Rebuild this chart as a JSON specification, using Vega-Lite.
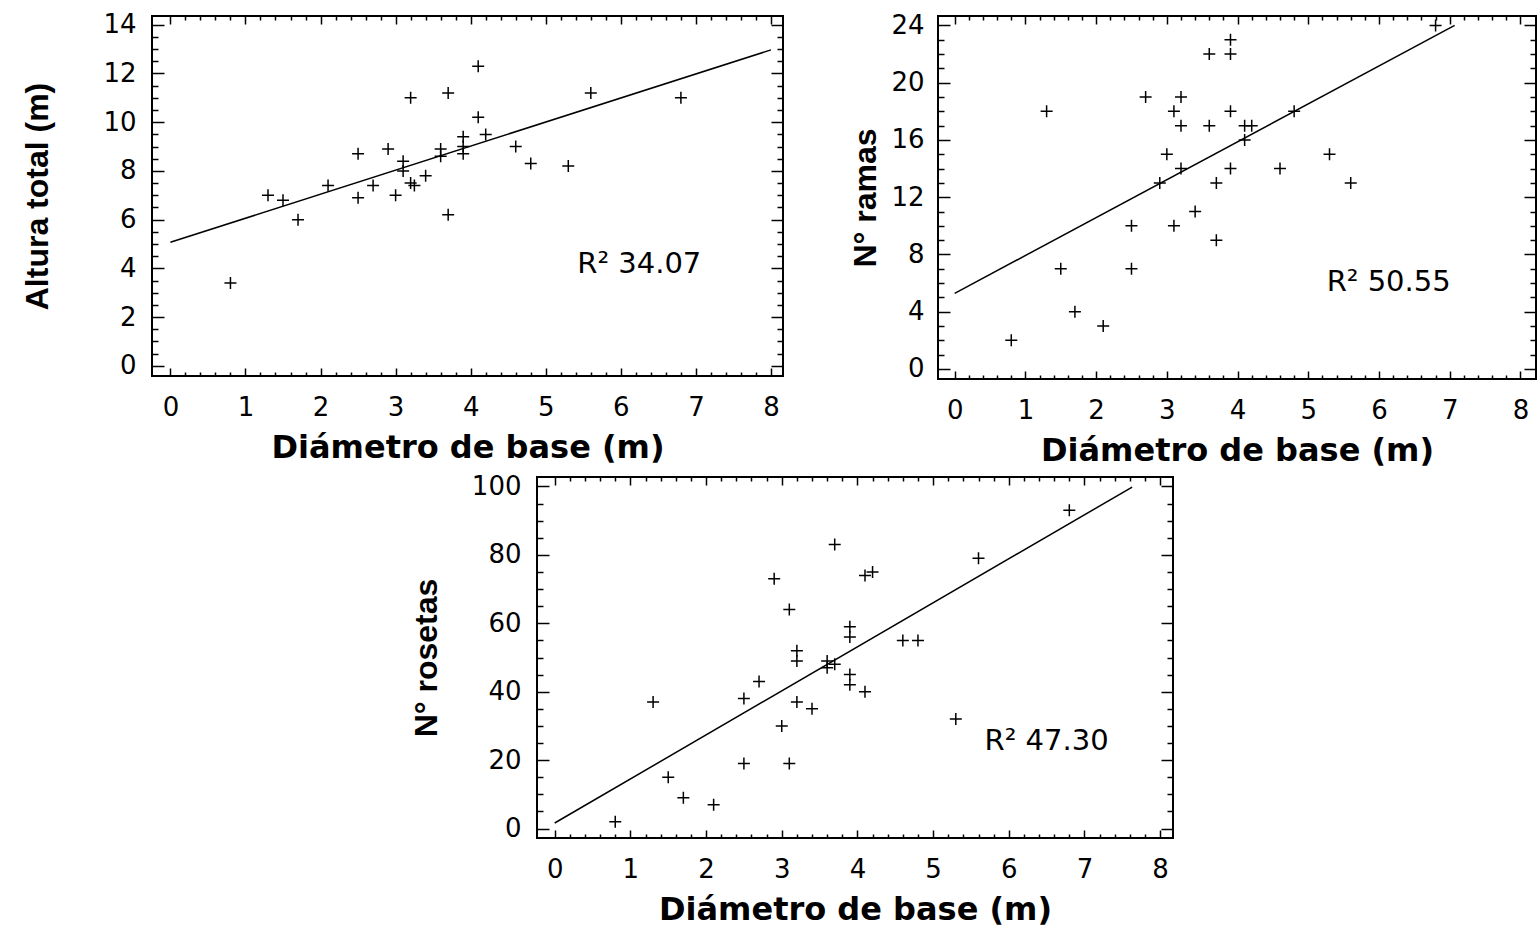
{
  "$schema": "https://vega.github.io/schema/vega-lite/v6.json",
  "padding": {"left": 20, "top": 10, "right": 0, "bottom": 0},
  "background": "white",
  "config": {
    "view": {"stroke": "black", "strokeWidth": 2},
    "axis": {"grid": false, "domain": false, "tickColor": "black", "tickWidth": 1.5, "labelColor": "black", "labelFont": "DejaVu Sans", "labelFontSize": 26, "labelFlush": false, "labelOverlap": false, "labelBound": false, "titleColor": "black", "titleFontWeight": "bold"}
  },
  "datasets": {
    "p1": [
      {"d": 0.8, "v": 3.4}, {"d": 1.3, "v": 7.0}, {"d": 1.5, "v": 6.8}, {"d": 1.7, "v": 6.0}, {"d": 2.1, "v": 7.4},
      {"d": 2.5, "v": 8.7}, {"d": 2.5, "v": 6.9}, {"d": 2.7, "v": 7.4}, {"d": 2.9, "v": 8.9}, {"d": 3.0, "v": 7.0},
      {"d": 3.1, "v": 8.4}, {"d": 3.1, "v": 8.0}, {"d": 3.2, "v": 11.0}, {"d": 3.2, "v": 7.5}, {"d": 3.25, "v": 7.4},
      {"d": 3.4, "v": 7.8}, {"d": 3.6, "v": 8.9}, {"d": 3.6, "v": 8.6}, {"d": 3.7, "v": 11.2}, {"d": 3.7, "v": 6.2},
      {"d": 3.9, "v": 9.4}, {"d": 3.9, "v": 9.0}, {"d": 3.9, "v": 8.7}, {"d": 4.1, "v": 12.3}, {"d": 4.1, "v": 10.2},
      {"d": 4.2, "v": 9.5}, {"d": 4.6, "v": 9.0}, {"d": 4.8, "v": 8.3}, {"d": 5.3, "v": 8.2}, {"d": 5.6, "v": 11.2},
      {"d": 6.8, "v": 11.0}
    ],
    "l1": [{"d": 0, "v": 5.07}, {"d": 8, "v": 12.97}],
    "p2": [
      {"d": 0.8, "v": 2}, {"d": 1.3, "v": 18}, {"d": 1.5, "v": 7}, {"d": 1.7, "v": 4}, {"d": 2.1, "v": 3},
      {"d": 2.5, "v": 10}, {"d": 2.5, "v": 7}, {"d": 2.7, "v": 19}, {"d": 2.9, "v": 13}, {"d": 3.0, "v": 15},
      {"d": 3.1, "v": 18}, {"d": 3.1, "v": 10}, {"d": 3.2, "v": 19}, {"d": 3.2, "v": 17}, {"d": 3.2, "v": 14},
      {"d": 3.4, "v": 11}, {"d": 3.6, "v": 22}, {"d": 3.6, "v": 17}, {"d": 3.7, "v": 13}, {"d": 3.7, "v": 9},
      {"d": 3.9, "v": 23}, {"d": 3.9, "v": 22}, {"d": 3.9, "v": 18}, {"d": 3.9, "v": 14}, {"d": 4.1, "v": 17},
      {"d": 4.2, "v": 17}, {"d": 4.1, "v": 16}, {"d": 4.6, "v": 14}, {"d": 4.8, "v": 18}, {"d": 5.3, "v": 15},
      {"d": 5.6, "v": 13}, {"d": 6.8, "v": 24}
    ],
    "l2": [{"d": 0, "v": 5.28}, {"d": 7.07, "v": 24.0}],
    "p3": [
      {"d": 0.8, "v": 2}, {"d": 1.3, "v": 37}, {"d": 1.5, "v": 15}, {"d": 1.7, "v": 9}, {"d": 2.1, "v": 7},
      {"d": 2.5, "v": 38}, {"d": 2.5, "v": 19}, {"d": 2.7, "v": 43}, {"d": 2.9, "v": 73}, {"d": 3.0, "v": 30},
      {"d": 3.1, "v": 64}, {"d": 3.1, "v": 19}, {"d": 3.2, "v": 52}, {"d": 3.2, "v": 49}, {"d": 3.2, "v": 37},
      {"d": 3.4, "v": 35}, {"d": 3.6, "v": 49}, {"d": 3.6, "v": 47}, {"d": 3.7, "v": 48}, {"d": 3.7, "v": 83},
      {"d": 3.9, "v": 59}, {"d": 3.9, "v": 56}, {"d": 3.9, "v": 45}, {"d": 3.9, "v": 42}, {"d": 4.1, "v": 40},
      {"d": 4.1, "v": 74}, {"d": 4.2, "v": 75}, {"d": 4.6, "v": 55}, {"d": 4.8, "v": 55}, {"d": 5.3, "v": 32},
      {"d": 5.6, "v": 79}, {"d": 6.8, "v": 93}
    ],
    "l3": [{"d": 0, "v": 1.64}, {"d": 7.63, "v": 99.8}]
  },
  "spacing": 5,
  "vconcat": [
    {
      "bounds": "flush",
      "spacing": 155,
      "hconcat": [
        {
          "width": 631, "height": 360,
          "resolve": {"axis": {"x": "independent", "y": "independent"}},
          "layer": [
            {
              "data": {"name": "p1"},
              "mark": {"type": "point", "shape": "M-1,0L1,0M0,-1L0,1", "filled": false, "color": "black", "strokeWidth": 1.5, "size": 144, "opacity": 1},
              "encoding": {
                "x": {"field": "d", "type": "quantitative", "scale": {"domain": [-0.245, 8.16], "nice": false, "zero": false},
                      "axis": {"orient": "bottom", "title": "Diámetro de base (m)", "values": [0,1,2,3,4,5,6,7,8], "ticks": false, "tickSize": 0, "labelPadding": 18, "titlePadding": 12, "titleFont": "DejaVu Sans", "titleFontSize": 32}},
                "y": {"field": "v", "type": "quantitative", "scale": {"domain": [-0.42, 14.36], "nice": false, "zero": false},
                      "axis": {"orient": "left", "title": "Altura total (m)", "values": [0,2,4,6,8,10,12,14], "ticks": false, "tickSize": 0, "labelPadding": 16, "titlePadding": 48, "titleFont": "Liberation Sans", "titleFontSize": 32}}
              }
            },
            {
              "data": {"name": "l1"},
              "mark": {"type": "line", "color": "black", "strokeWidth": 1.5},
              "encoding": {
                "x": {"field": "d", "type": "quantitative", "scale": {"domain": [-0.245, 8.16], "nice": false, "zero": false},
                      "axis": {"orient": "bottom", "title": null, "labels": false, "values": [0,0.2,0.4,0.6,0.8,1,1.2,1.4,1.6,1.8,2,2.2,2.4,2.6,2.8,3,3.2,3.4,3.6,3.8,4,4.2,4.4,4.6,4.8,5,5.2,5.4,5.6,5.8,6,6.2,6.4,6.6,6.8,7,7.2,7.4,7.6,7.8,8],
                               "tickSize": {"condition": {"test": "abs(datum.value - round(datum.value)) < 0.01", "value": -8}, "value": -4}}},
                "y": {"field": "v", "type": "quantitative", "scale": {"domain": [-0.42, 14.36], "nice": false, "zero": false},
                      "axis": {"orient": "left", "title": null, "labels": false, "values": [0,0.5,1,1.5,2,2.5,3,3.5,4,4.5,5,5.5,6,6.5,7,7.5,8,8.5,9,9.5,10,10.5,11,11.5,12,12.5,13,13.5,14],
                               "tickSize": {"condition": {"test": "datum.value % 2 === 0", "value": -12}, "value": -6}}}
              }
            },
            {
              "data": {"values": [{}]},
              "mark": {"type": "text", "align": "left", "baseline": "alphabetic", "font": "DejaVu Sans", "fontSize": 29, "color": "black"},
              "encoding": {
                "x": {"datum": 5.42, "type": "quantitative", "scale": {"domain": [-0.245, 8.16], "nice": false, "zero": false},
                      "axis": {"orient": "top", "title": null, "labels": false, "values": [0,0.2,0.4,0.6,0.8,1,1.2,1.4,1.6,1.8,2,2.2,2.4,2.6,2.8,3,3.2,3.4,3.6,3.8,4,4.2,4.4,4.6,4.8,5,5.2,5.4,5.6,5.8,6,6.2,6.4,6.6,6.8,7,7.2,7.4,7.6,7.8,8],
                               "tickSize": {"condition": {"test": "abs(datum.value - round(datum.value)) < 0.01", "value": -8}, "value": -4}}},
                "y": {"datum": 3.8, "type": "quantitative", "scale": {"domain": [-0.42, 14.36], "nice": false, "zero": false},
                      "axis": {"orient": "right", "title": null, "labels": false, "values": [0,0.5,1,1.5,2,2.5,3,3.5,4,4.5,5,5.5,6,6.5,7,7.5,8,8.5,9,9.5,10,10.5,11,11.5,12,12.5,13,13.5,14],
                               "tickSize": {"condition": {"test": "datum.value % 2 === 0", "value": -12}, "value": -6}}},
                "text": {"value": "R² 34.07"}
              }
            }
          ]
        },
        {
          "width": 598, "height": 363,
          "resolve": {"axis": {"x": "independent", "y": "independent"}},
          "layer": [
            {
              "data": {"name": "p2"},
              "mark": {"type": "point", "shape": "M-1,0L1,0M0,-1L0,1", "filled": false, "color": "black", "strokeWidth": 1.5, "size": 144, "opacity": 1},
              "encoding": {
                "x": {"field": "d", "type": "quantitative", "scale": {"domain": [-0.236, 8.22], "nice": false, "zero": false},
                      "axis": {"orient": "bottom", "title": "Diámetro de base (m)", "values": [0,1,2,3,4,5,6,7,8], "ticks": false, "tickSize": 0, "labelPadding": 18, "titlePadding": 12, "titleFont": "DejaVu Sans", "titleFontSize": 32}},
                "y": {"field": "v", "type": "quantitative", "scale": {"domain": [-0.70, 24.66], "nice": false, "zero": false},
                      "axis": {"orient": "left", "title": "N° ramas", "values": [0,4,8,12,16,20,24], "ticks": false, "tickSize": 0, "labelPadding": 14, "titlePadding": 8, "titleFont": "Liberation Sans", "titleFontSize": 32}}
              }
            },
            {
              "data": {"name": "l2"},
              "mark": {"type": "line", "color": "black", "strokeWidth": 1.5},
              "encoding": {
                "x": {"field": "d", "type": "quantitative", "scale": {"domain": [-0.236, 8.22], "nice": false, "zero": false},
                      "axis": {"orient": "bottom", "title": null, "labels": false, "values": [0,0.2,0.4,0.6,0.8,1,1.2,1.4,1.6,1.8,2,2.2,2.4,2.6,2.8,3,3.2,3.4,3.6,3.8,4,4.2,4.4,4.6,4.8,5,5.2,5.4,5.6,5.8,6,6.2,6.4,6.6,6.8,7,7.2,7.4,7.6,7.8,8],
                               "tickSize": {"condition": {"test": "abs(datum.value - round(datum.value)) < 0.01", "value": -8}, "value": -4}}},
                "y": {"field": "v", "type": "quantitative", "scale": {"domain": [-0.70, 24.66], "nice": false, "zero": false},
                      "axis": {"orient": "left", "title": null, "labels": false, "values": [0,1,2,3,4,5,6,7,8,9,10,11,12,13,14,15,16,17,18,19,20,21,22,23,24],
                               "tickSize": {"condition": {"test": "datum.value % 4 === 0", "value": -12}, "value": -6}}}
              }
            },
            {
              "data": {"values": [{}]},
              "mark": {"type": "text", "align": "left", "baseline": "alphabetic", "font": "DejaVu Sans", "fontSize": 29, "color": "black"},
              "encoding": {
                "x": {"datum": 5.26, "type": "quantitative", "scale": {"domain": [-0.236, 8.22], "nice": false, "zero": false},
                      "axis": {"orient": "top", "title": null, "labels": false, "values": [0,0.2,0.4,0.6,0.8,1,1.2,1.4,1.6,1.8,2,2.2,2.4,2.6,2.8,3,3.2,3.4,3.6,3.8,4,4.2,4.4,4.6,4.8,5,5.2,5.4,5.6,5.8,6,6.2,6.4,6.6,6.8,7,7.2,7.4,7.6,7.8,8],
                               "tickSize": {"condition": {"test": "abs(datum.value - round(datum.value)) < 0.01", "value": -8}, "value": -4}}},
                "y": {"datum": 5.46, "type": "quantitative", "scale": {"domain": [-0.70, 24.66], "nice": false, "zero": false},
                      "axis": {"orient": "right", "title": null, "labels": false, "values": [0,1,2,3,4,5,6,7,8,9,10,11,12,13,14,15,16,17,18,19,20,21,22,23,24],
                               "tickSize": {"condition": {"test": "datum.value % 4 === 0", "value": -12}, "value": -6}}},
                "text": {"value": "R² 50.55"}
              }
            }
          ]
        }
      ]
    },
    {
      "bounds": "flush",
      "spacing": 0,
      "hconcat": [
        {
          "width": 385, "height": 10,
          "view": {"stroke": null, "fill": "white"},
          "data": {"values": []},
          "mark": "point"
        },
        {
          "width": 636, "height": 361,
          "resolve": {"axis": {"x": "independent", "y": "independent"}},
          "layer": [
            {
              "data": {"name": "p3"},
              "mark": {"type": "point", "shape": "M-1,0L1,0M0,-1L0,1", "filled": false, "color": "black", "strokeWidth": 1.5, "size": 144, "opacity": 1},
              "encoding": {
                "x": {"field": "d", "type": "quantitative", "scale": {"domain": [-0.234, 8.17], "nice": false, "zero": false},
                      "axis": {"orient": "bottom", "title": "Diámetro de base (m)", "values": [0,1,2,3,4,5,6,7,8], "ticks": false, "tickSize": 0, "labelPadding": 18, "titlePadding": 12, "titleFont": "DejaVu Sans", "titleFontSize": 32}},
                "y": {"field": "v", "type": "quantitative", "scale": {"domain": [-2.75, 102.75], "nice": false, "zero": false},
                      "axis": {"orient": "left", "title": "N° rosetas", "values": [0,20,40,60,80,100], "ticks": false, "tickSize": 0, "labelPadding": 16, "titlePadding": 28, "titleFont": "Liberation Sans", "titleFontSize": 32}}
              }
            },
            {
              "data": {"name": "l3"},
              "mark": {"type": "line", "color": "black", "strokeWidth": 1.5},
              "encoding": {
                "x": {"field": "d", "type": "quantitative", "scale": {"domain": [-0.234, 8.17], "nice": false, "zero": false},
                      "axis": {"orient": "bottom", "title": null, "labels": false, "values": [0,0.2,0.4,0.6,0.8,1,1.2,1.4,1.6,1.8,2,2.2,2.4,2.6,2.8,3,3.2,3.4,3.6,3.8,4,4.2,4.4,4.6,4.8,5,5.2,5.4,5.6,5.8,6,6.2,6.4,6.6,6.8,7,7.2,7.4,7.6,7.8,8],
                               "tickSize": {"condition": {"test": "abs(datum.value - round(datum.value)) < 0.01", "value": -8}, "value": -4}}},
                "y": {"field": "v", "type": "quantitative", "scale": {"domain": [-2.75, 102.75], "nice": false, "zero": false},
                      "axis": {"orient": "left", "title": null, "labels": false, "values": [0,5,10,15,20,25,30,35,40,45,50,55,60,65,70,75,80,85,90,95,100],
                               "tickSize": {"condition": {"test": "datum.value % 20 === 0", "value": -12}, "value": -6}}}
              }
            },
            {
              "data": {"values": [{}]},
              "mark": {"type": "text", "align": "left", "baseline": "alphabetic", "font": "DejaVu Sans", "fontSize": 29, "color": "black"},
              "encoding": {
                "x": {"datum": 5.68, "type": "quantitative", "scale": {"domain": [-0.234, 8.17], "nice": false, "zero": false},
                      "axis": {"orient": "top", "title": null, "labels": false, "values": [0,0.2,0.4,0.6,0.8,1,1.2,1.4,1.6,1.8,2,2.2,2.4,2.6,2.8,3,3.2,3.4,3.6,3.8,4,4.2,4.4,4.6,4.8,5,5.2,5.4,5.6,5.8,6,6.2,6.4,6.6,6.8,7,7.2,7.4,7.6,7.8,8],
                               "tickSize": {"condition": {"test": "abs(datum.value - round(datum.value)) < 0.01", "value": -8}, "value": -4}}},
                "y": {"datum": 22.9, "type": "quantitative", "scale": {"domain": [-2.75, 102.75], "nice": false, "zero": false},
                      "axis": {"orient": "right", "title": null, "labels": false, "values": [0,5,10,15,20,25,30,35,40,45,50,55,60,65,70,75,80,85,90,95,100],
                               "tickSize": {"condition": {"test": "datum.value % 20 === 0", "value": -12}, "value": -6}}},
                "text": {"value": "R² 47.30"}
              }
            }
          ]
        }
      ]
    }
  ]
}
